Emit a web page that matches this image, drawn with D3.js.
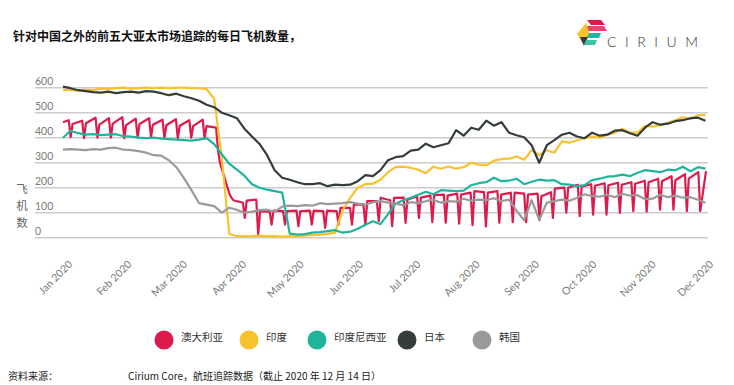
<!DOCTYPE html>
<html>
<head>
<meta charset="utf-8">
<script src="https://cdn.jsdelivr.net/npm/d3@7"></script>
<style>
  body { margin: 0; background: #fff; }
  svg { display: block; }
</style>
</head>
<body>
<svg id="chart" width="734" height="385"></svg>
<script>
// month ticks (day of year 2020) and their labels
const monthDays = [0, 31, 60, 91, 121, 152, 182, 213, 244, 274, 305, 335];
const monthLabels = ['Jan 2020', 'Feb 2020', 'Mar 2020', 'Apr 2020', 'May 2020', 'Jun 2020',
  'Jul 2020', 'Aug 2020', 'Sep 2020', 'Oct 2020', 'Nov 2020', 'Dec 2020'];
const yTicks = [0, 100, 200, 300, 400, 500, 600];

// daily samples, roughly every 4 days from 1 Jan
const SAMPLE_STEP = 3.95;

const india = [
  592, 590, 588, 592, 590, 596, 594, 598, 600, 596,
  598, 600, 598, 600, 598, 600, 600, 598, 598, 594,
  556, 320, 15, 6, 5, 6, 8, 5, 6, 4,
  6, 5, 8, 10, 12, 15, 20, 110, 160, 200,
  214, 216, 232, 262, 282, 284, 280, 272, 258, 284,
  276, 285, 276, 282, 300, 292, 290, 308, 314, 316,
  325, 312, 350, 330, 350, 340, 385, 380, 390, 398,
  404, 400, 412, 420, 436, 420, 420, 448, 444, 450,
  460, 470, 482, 474, 490, 490
];

const indonesia = [
  400, 428, 418, 412, 414, 410, 412, 414, 406, 404,
  400, 398, 400, 396, 394, 392, 390, 388, 392, 398,
  374, 334, 296, 272, 248, 214, 200, 192, 186, 180,
  16, 12, 14, 20, 22, 26, 30, 20, 24, 36,
  52, 66, 54, 94, 136, 150, 160, 172, 184, 174,
  190, 188, 186, 188, 210, 218, 222, 240, 226, 228,
  236, 214, 224, 232, 228, 230, 214, 212, 206, 210,
  230, 236, 244, 246, 252, 246, 260, 270, 266, 262,
  272, 270, 284, 266, 282, 276
];

const japan = [
  604, 598, 590, 586, 582, 580, 584, 578, 582, 584,
  580, 586, 584, 578, 570, 576, 566, 558, 548, 532,
  522, 500, 490, 478, 436, 405, 375, 330, 270, 240,
  232, 222, 214, 214, 218, 206, 212, 210, 212, 226,
  250, 246, 270, 310, 322, 326, 348, 352, 376, 362,
  370, 378, 430, 408, 440, 432, 468, 448, 462, 420,
  410, 402, 370, 300, 370, 390, 412, 420, 405, 398,
  420, 408, 412, 428, 430, 418, 408, 440, 462, 452,
  456, 466, 470, 478, 480, 468
];

const korea = [
  352, 354, 352, 350, 354, 352, 358, 360, 352, 350,
  346, 340, 330, 328, 310, 282, 238, 190, 138, 132,
  126, 100, 120, 112, 100, 104, 110, 112, 104, 124,
  128, 126, 130, 128, 138, 134, 136, 138, 142, 136,
  132, 142, 146, 140, 136, 130, 142, 138, 146, 152,
  140, 146, 144, 156, 148, 152, 150, 158, 146, 152,
  108, 70, 150, 72, 140, 146, 152, 148, 160, 174,
  166, 164, 172, 162, 176, 168, 170, 154, 156, 172,
  162, 168, 160, 162, 152, 140
];

// Australia has a strong weekly dip: per week [day after dip, day before dip, dip day]
const australiaWeeks = [
  [462, 470, 402], [455, 468, 398], [458, 480, 400], [452, 478, 400],
  [456, 482, 398], [450, 476, 400], [455, 478, 402], [452, 472, 398],
  [450, 474, 396], [448, 470, 400], [446, 472, 396], [446, 440, 350],
  [300, 175, 160], [150, 140, 79], [148, 152, 12], [106, 104, 52],
  [108, 106, 52], [106, 108, 46], [106, 108, 52], [108, 106, 39],
  [108, 106, 52], [119, 119, 52], [132, 132, 50], [146, 146, 66],
  [160, 150, 46], [159, 160, 59], [152, 166, 79], [160, 168, 62],
  [170, 172, 60], [168, 176, 56], [172, 180, 50], [186, 182, 45],
  [180, 186, 60], [172, 180, 62], [180, 176, 62], [172, 176, 70],
  [166, 182, 79], [196, 200, 100], [200, 212, 86], [204, 214, 92],
  [208, 218, 92], [210, 220, 99], [212, 222, 106], [216, 228, 104],
  [222, 236, 112], [226, 246, 112], [230, 254, 106], [236, 262, 106]
];
const australiaLast = 266;

const seriesNames = ['澳大利亚', '印度', '印度尼西亚', '日本', '韩国'];
const seriesColors = ['#dc1a4c', '#f8c22c', '#20b59b', '#343c3c', '#9a9a9a'];

// build point lists
function sampled(values) {
  return values.map((v, i) => ({ day: i * SAMPLE_STEP, value: v }));
}

const australia = [];
australiaWeeks.forEach((w, k) => {
  australia.push({ day: Math.max(0, 7 * k - 2), value: w[0] });
  australia.push({ day: 7 * k + 3, value: w[1] });
  australia.push({ day: 7 * k + 4, value: w[2] });
});
australia.push({ day: 336, value: australiaLast });

const series = [australia, sampled(india), sampled(indonesia), sampled(japan), sampled(korea)];

const svg = d3.select('#chart');
svg.append('rect').attr('width', 734).attr('height', 385).attr('fill', '#fff');

const x = d3.scaleLinear().domain([0, 336]).range([63, 706]);
const y = d3.scaleLinear().domain([0, 600]).range([237.7, 87.7]);

// title
svg.append('text')
  .attr('x', 13).attr('y', 41)
  .attr('font-family', '"Noto Sans CJK SC", sans-serif')
  .attr('font-size', 12).attr('font-weight', 'bold')
  .attr('fill', '#111')
  .text('针对中国之外的前五大亚太市场追踪的每日飞机数量，');

// gridlines + y labels
const grid = svg.append('g');
grid.selectAll('line')
  .data(yTicks)
  .join('line')
  .attr('x1', 35).attr('x2', 708)
  .attr('y1', d => y(d)).attr('y2', d => y(d))
  .attr('stroke', '#cccccc')
  .attr('stroke-width', 1.5);

grid.selectAll('text')
  .data(yTicks)
  .join('text')
  .attr('x', 35)
  .attr('y', d => y(d) - 3)
  .attr('font-family', 'Lato, sans-serif')
  .attr('font-size', 10.5)
  .attr('fill', '#7a7a7a')
  .text(d => d);

// y axis title, stacked characters
svg.append('g')
  .selectAll('text')
  .data(['飞', '机', '数'])
  .join('text')
  .attr('x', 22)
  .attr('y', (d, i) => 193 + i * 17)
  .attr('text-anchor', 'middle')
  .attr('font-family', '"Noto Sans CJK SC", sans-serif')
  .attr('font-size', 11.5)
  .attr('fill', '#666')
  .text(d => d);

// x labels, rotated
svg.append('g')
  .selectAll('text')
  .data(monthDays)
  .join('text')
  .attr('transform', d => `translate(${x(d) + 10},${265}) rotate(-45)`)
  .attr('text-anchor', 'end')
  .attr('font-family', 'Lato, sans-serif')
  .attr('font-size', 10.5)
  .attr('fill', '#7a7a7a')
  .text((d, i) => monthLabels[i]);

// lines
const line = d3.line()
  .x(d => x(d.day))
  .y(d => y(d.value));

svg.append('g')
  .selectAll('path')
  .data(series)
  .join('path')
  .attr('d', line)
  .attr('fill', 'none')
  .attr('stroke', (d, i) => seriesColors[i])
  .attr('stroke-width', 2.2)
  .attr('stroke-linejoin', 'round');

// legend
const legendX = [164, 249, 317, 407, 482];
const legend = svg.append('g')
  .selectAll('g')
  .data(seriesNames)
  .join('g')
  .attr('transform', (d, i) => `translate(${legendX[i]},340)`);

legend.append('circle')
  .attr('r', 9.5)
  .attr('fill', (d, i) => seriesColors[i]);

legend.append('text')
  .attr('x', 17)
  .attr('y', 1)
  .attr('font-family', '"Noto Sans CJK SC", sans-serif')
  .attr('font-size', 10.5)
  .attr('fill', '#333')
  .text(d => d);

// source line
svg.append('text')
  .attr('x', 8).attr('y', 380)
  .attr('font-family', '"Noto Sans CJK SC", sans-serif')
  .attr('font-size', 10)
  .attr('fill', '#222')
  .text('资料来源：');

svg.append('text')
  .attr('x', 128).attr('y', 380)
  .attr('font-family', '"Noto Sans CJK SC", sans-serif')
  .attr('font-size', 10)
  .attr('fill', '#222')
  .text('Cirium Core，航班追踪数据（截止 2020 年 12 月 14 日）');

// Cirium logo
const logo = svg.append('g');
const shapes = [
  { fill: '#dc1a4c', pts: [[587, 20], [601, 20], [605, 25], [591, 25]] },
  { fill: '#e8456f', pts: [[585, 26], [604, 26], [607, 31], [588, 31]] },
  { fill: '#f8c22c', pts: [[577, 34], [586, 23], [590, 35], [583, 44]] },
  { fill: '#343c3c', pts: [[580, 37], [588, 37], [584, 46]] },
  { fill: '#20b59b', pts: [[589, 33], [601, 33], [599, 38], [587, 38]] },
  { fill: '#3cc4a8', pts: [[586, 40], [597, 40], [595, 45], [584, 45]] }
];
logo.selectAll('polygon')
  .data(shapes)
  .join('polygon')
  .attr('points', d => d.pts.map(p => p.join(',')).join(' '))
  .attr('fill', d => d.fill);

logo.append('text')
  .attr('x', 607).attr('y', 47)
  .attr('font-family', 'Lato, sans-serif')
  .attr('font-weight', 300)
  .attr('font-size', 14)
  .attr('fill', '#333')
  .attr('textLength', 91)
  .attr('lengthAdjust', 'spacing')
  .text('CIRIUM');
</script>
</body>
</html>
